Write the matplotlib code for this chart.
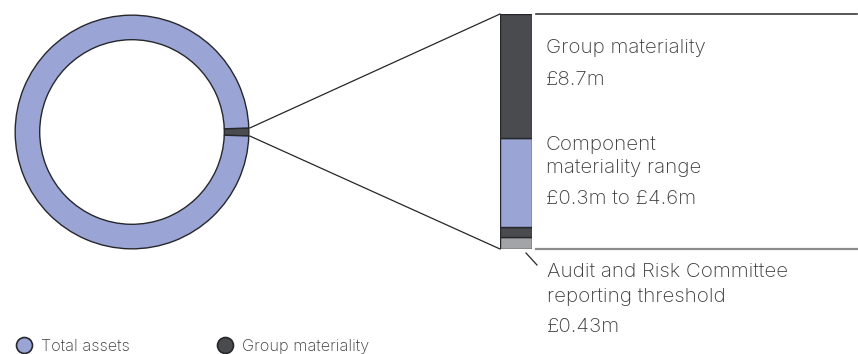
import numpy as np
import matplotlib.pyplot as plt
from matplotlib.lines import Line2D

# Ring: share of total assets taken by group materiality
ring_labels = ["Group materiality", "Total assets"]
ring_shares = [1.1, 98.9]

# Zoomed bar: stacked boundaries in £m (bottom to top)
bar_bounds = [0.0, 0.43, 0.8, 4.1, 8.7]
bar_colors = ["#a3a4a8", "#4a4b4f", "#9aa5d6", "#4a4b4f"]

# Annotation text blocks beside the bar
group_lines = ["Group materiality", "£8.7m"]
component_lines = ["Component", "materiality range", "£0.3m to £4.6m"]
threshold_lines = ["Audit and Risk Committee", "reporting threshold", "£0.43m"]

legend_labels = ["Total assets", "Group materiality"]
legend_colors = ["#9aa5d6", "#4a4b4f"]

W, H = 858, 354
BLUE = "#9aa5d6"
DARK = "#4a4b4f"
EDGE = "#26272b"
TXT = "#3b3b3d"
plt.rcParams['font.family'] = ['Inter', 'DejaVu Sans']

fig = plt.figure(figsize=(W / 100, H / 100), dpi=100)

# pixel-space overlay for connectors, rules and text
ov = fig.add_axes([0, 0, 1, 1])
ov.set_xlim(0, W)
ov.set_ylim(H, 0)
ov.axis('off')

# ring (donut)
cx, cy, R = 132, 132, 118
ax_ring = fig.add_axes([(cx - R) / W, (H - cy - R) / H, 2 * R / W, 2 * R / H])
grp_deg = ring_shares[0] / sum(ring_shares) * 360
ax_ring.pie(ring_shares, colors=[DARK, BLUE], startangle=-grp_deg / 2,
            counterclock=True, radius=1,
            wedgeprops=dict(width=0.21, edgecolor=EDGE, linewidth=1.0))
ax_ring.set_xlim(-1.01, 1.01)
ax_ring.set_ylim(-1.01, 1.01)
ax_ring.axis('off')

# stacked bar
bx0, bx1, by0, by1 = 500, 532, 14, 249
ax_bar = fig.add_axes([bx0 / W, (H - by1) / H, (bx1 - bx0) / W, (by1 - by0) / H])
for lo, hi, col in zip(bar_bounds[:-1], bar_bounds[1:], bar_colors):
    ax_bar.bar(0.5, hi - lo, bottom=lo, width=1.0, color=col,
               edgecolor=EDGE, linewidth=1.0)
ax_bar.set_xlim(0, 1)
ax_bar.set_ylim(0, bar_bounds[-1])
ax_bar.axis('off')

# connector lines from ring wedge to the bar corners
a = np.deg2rad(grp_deg / 2)
ex = cx + R * np.cos(a)
ov.plot([ex, bx0], [cy - R * np.sin(a), by0], color=EDGE, lw=0.9)
ov.plot([ex, bx0], [cy + R * np.sin(a), by1], color=EDGE, lw=0.9)

# rules to the right of the bar
ov.plot([536, 857], [14, 14], color="#3a3a3a", lw=1.2)
ov.plot([536, 857], [249, 249], color="#8c8c8c", lw=1.6)
ov.plot([526, 537], [253, 265], color=EDGE, lw=0.9)

tkw = dict(color=TXT, fontsize=14.8, fontweight='light', va='center', ha='left')
for txt, y in zip(group_lines, [48, 80]):
    ov.text(546, y, txt, **tkw)
for txt, y in zip(component_lines, [145, 168, 199]):
    ov.text(546, y, txt, **tkw)
for txt, y in zip(threshold_lines, [272, 297, 327]):
    ov.text(547, y, txt, **tkw)

# legend
for (lx, col, lab) in zip([24, 225], legend_colors, legend_labels):
    ov.add_line(Line2D([lx], [345], marker='o', markersize=11.5,
                       markerfacecolor=col, markeredgecolor=EDGE,
                       markeredgewidth=1.2, linestyle='none'))
    ov.text(lx + 17, 346, lab, color=TXT, fontsize=11.7, fontweight='light',
            va='center', ha='left')

fig.savefig("out.png", dpi=100)
